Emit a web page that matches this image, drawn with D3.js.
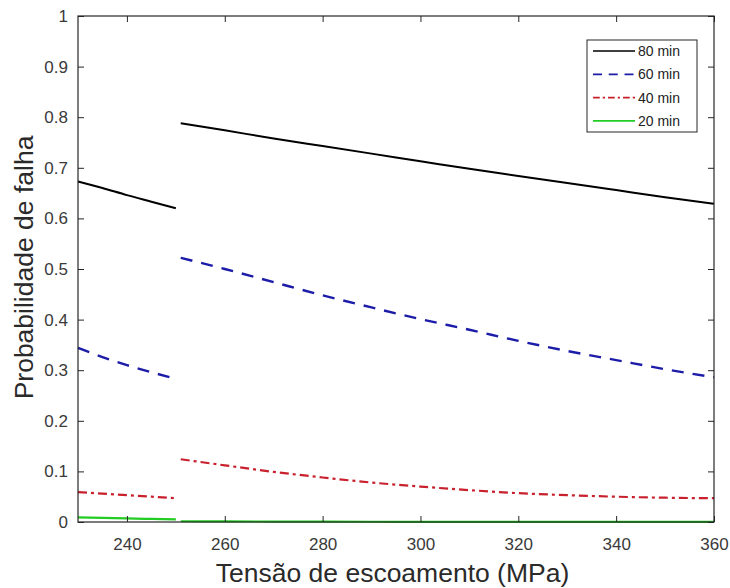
<!DOCTYPE html>
<html>
<head>
<meta charset="utf-8">
<script src="https://cdn.jsdelivr.net/npm/d3@7"></script>
<style>
  html, body { margin: 0; padding: 0; background: #fff; }
  svg { display: block; font-family: "Liberation Sans", Arial, Helvetica, sans-serif; }
</style>
</head>
<body>
<svg id="chart" width="730" height="588"></svg>
<script>
// Yield stress (MPa) sampled on either side of the discontinuity
const tensaoA = [230, 235, 240, 245, 250];
const tensaoB = [251, 260, 270, 280, 290, 300, 310, 320, 330, 340, 350, 360];

// Failure probability per exposure time
const p80A = [0.673, 0.660, 0.646, 0.633, 0.620];
const p80B = [0.788, 0.774, 0.758, 0.743, 0.728, 0.713, 0.698, 0.684, 0.670, 0.656, 0.642, 0.629];
const p60A = [0.344, 0.326, 0.310, 0.296, 0.283];
const p60B = [0.522, 0.500, 0.474, 0.448, 0.424, 0.401, 0.380, 0.358, 0.338, 0.320, 0.302, 0.286];
const p40A = [0.059, 0.056, 0.053, 0.050, 0.047];
const p40B = [0.124, 0.112, 0.099, 0.088, 0.078, 0.070, 0.063, 0.057, 0.053, 0.050, 0.048, 0.047];
const p20A = [0.009, 0.008, 0.007, 0.006, 0.005];
const p20B = [0.0015, 0.0012, 0.0009, 0.0007, 0.0005, 0.0004, 0.0003, 0.0003, 0.0002, 0.0002, 0.0002, 0.0002];

const seriesNames = ["80 min", "60 min", "40 min", "20 min"];
const xTicks = [240, 260, 280, 300, 320, 340, 360];
const yTicks = [0, 0.1, 0.2, 0.3, 0.4, 0.5, 0.6, 0.7, 0.8, 0.9, 1];

const styles = [
  { color: "#000000", dash: null,         width: 2 },
  { color: "#1c1ca8", dash: "12,9",       width: 2.4 },
  { color: "#c8202c", dash: "9,4,3,4",    width: 2.2 },
  { color: "#22cc22", dash: null,         width: 2.2 }
];

const seriesA = [p80A, p60A, p40A, p20A];
const seriesB = [p80B, p60B, p40B, p20B];

const svg = d3.select("#chart");
const plotL = 78, plotR = 714, plotT = 16, plotB = 522;
const axisColor = "#262626";

const x = d3.scaleLinear().domain([230, 360]).range([plotL, plotR]);
const y = d3.scaleLinear().domain([0, 1]).range([plotB, plotT]);

const fmt = d => (d === 0 ? "0" : d === 1 ? "1" : d3.format(".1f")(d));

// Curves
const line = d3.line()
  .x(d => x(d[0]))
  .y(d => y(d[1]))
  .curve(d3.curveMonotoneX);

const plot = svg.append("g");
seriesNames.forEach((name, i) => {
  const st = styles[i];
  [[tensaoA, seriesA[i]], [tensaoB, seriesB[i]]].forEach(([xs, ys]) => {
    plot.append("path")
      .datum(xs.map((v, k) => [v, ys[k]]))
      .attr("d", line)
      .attr("fill", "none")
      .attr("stroke", st.color)
      .attr("stroke-width", st.width)
      .attr("stroke-dasharray", st.dash);
  });
});

// Axes with inward ticks on all four sides
const tickLen = 6;
const gB = svg.append("g").attr("transform", `translate(0,${plotB})`)
  .call(d3.axisBottom(x).tickValues(xTicks).tickSizeInner(-tickLen).tickSizeOuter(0).tickPadding(16).tickFormat(d3.format("d")));
const gT = svg.append("g").attr("transform", `translate(0,${plotT})`)
  .call(d3.axisTop(x).tickValues(xTicks).tickSizeInner(-tickLen).tickSizeOuter(0).tickFormat(""));
const gL = svg.append("g").attr("transform", `translate(${plotL},0)`)
  .call(d3.axisLeft(y).tickValues(yTicks).tickSizeInner(-tickLen).tickSizeOuter(0).tickPadding(10).tickFormat(fmt));
const gR = svg.append("g").attr("transform", `translate(${plotR},0)`)
  .call(d3.axisRight(y).tickValues(yTicks).tickSizeInner(-tickLen).tickSizeOuter(0).tickFormat(""));

[gB, gT, gL, gR].forEach(g => {
  g.select(".domain").remove();
  g.selectAll(".tick line").attr("stroke", axisColor).attr("stroke-width", 1);
  g.selectAll(".tick text").attr("fill", "#3a3a3a").style("font-size", "17px");
});

svg.append("rect")
  .attr("x", plotL).attr("y", plotT)
  .attr("width", plotR - plotL).attr("height", plotB - plotT)
  .attr("fill", "none").attr("stroke", axisColor).attr("stroke-width", 1.2);

// Axis titles
svg.append("text")
  .attr("x", 392.5).attr("y", 582)
  .attr("text-anchor", "middle")
  .attr("fill", "#2a2a2a")
  .style("font-size", "26.5px")
  .text("Tensão de escoamento (MPa)");

svg.append("text")
  .attr("transform", `translate(33,267.5) rotate(-90)`)
  .attr("text-anchor", "middle")
  .attr("fill", "#2a2a2a")
  .style("font-size", "26.5px")
  .text("Probabilidade de falha");

// Legend
const lg = svg.append("g").attr("transform", "translate(587,40)");
const rowH = 23.3;
lg.append("rect")
  .attr("x", 0).attr("y", 0)
  .attr("width", 110).attr("height", 92)
  .attr("fill", "#fff").attr("stroke", axisColor).attr("stroke-width", 1);
seriesNames.forEach((name, i) => {
  const cy = 11 + i * rowH;
  const st = styles[i];
  lg.append("line")
    .attr("x1", 6).attr("x2", 48)
    .attr("y1", cy).attr("y2", cy)
    .attr("stroke", st.color)
    .attr("stroke-width", st.width * 0.75)
    .attr("stroke-dasharray", st.dash ? st.dash.split(",").map(v => +v * 0.75).join(",") : null);
  lg.append("text")
    .attr("x", 51).attr("y", cy + 5)
    .attr("fill", "#222")
    .style("font-size", "14px")
    .text(name);
});
</script>
</body>
</html>
